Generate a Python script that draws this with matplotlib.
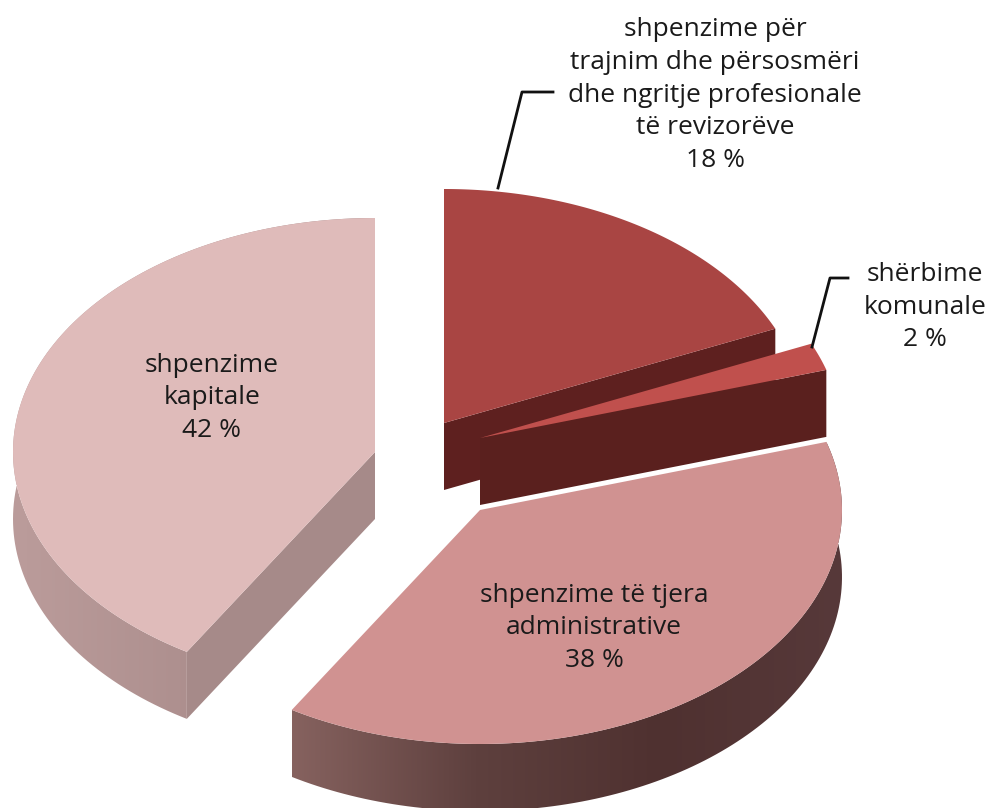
"""Exploded 3D-look pie of audit office expenses."""

import numpy as np
import matplotlib

matplotlib.use("Agg")
import matplotlib.pyplot as plt
from matplotlib.colors import LinearSegmentedColormap
from matplotlib.patches import Polygon

labels = [
    "shpenzime për\ntrajnim dhe përsosmëri\ndhe ngritje profesionale\ntë revizorëve\n18 %",
    "shërbime\nkomunale\n2 %",
    "shpenzime të tjera\nadministrative\n38 %",
    "shpenzime\nkapitale\n42 %",
]
# slice sizes as measured from the drawn angles, not the rounded label text
values = [18.4, 1.9, 38.4, 41.3]
top_colors = ["#a94543", "#c0504d", "#d09291", "#dfbbba"]
face_colors = ["#5e201f", "#5a201e", "#4f3130", "#a68a89"]
centers = [(444, 423), (480, 438), (480, 510), (375, 452)]

RX, RY, DEPTH = 362, 234, 67


def arc(center, t0, t1, n=120):
    t = np.radians(np.linspace(t0, t1, n))
    return np.column_stack([center[0] + RX * np.sin(t), center[1] - RY * np.cos(t)])


def gradient_fill(ax, pts, colors, zorder):
    cmap = LinearSegmentedColormap.from_list("wall", colors)
    x0, x1 = pts[:, 0].min(), pts[:, 0].max()
    y0, y1 = pts[:, 1].min(), pts[:, 1].max()
    im = ax.imshow(np.linspace(0, 1, 256)[None, :], cmap=cmap, extent=(x0, x1, y1, y0),
                   aspect="auto", zorder=zorder)
    patch = Polygon(pts, closed=True, transform=ax.transData, fc="none", ec="none")
    ax.add_patch(patch)
    im.set_clip_path(patch)


fig = plt.figure(figsize=(9.91, 8.08), dpi=100)
ax = fig.add_axes((0, 0, 1, 1))

edges = np.cumsum([0] + values) * 3.6
down = np.array([0, DEPTH])

# 42 % slice: outer wall then the cut face
c = np.array(centers[3])
rim = arc(c, edges[3], 360)
gradient_fill(ax, np.vstack([rim, (rim + down)[::-1]]), ["#bb9c9b", "#ad8f8e", "#9e8483"], 1)
end = rim[0]
ax.add_patch(Polygon([c, end, end + down, c + down], fc=face_colors[3], ec="none", zorder=2))
ax.add_patch(Polygon(np.vstack([c, rim]), fc=top_colors[3], ec="none", zorder=3))

# 38 % slice: outer wall
c = np.array(centers[2])
rim = arc(c, edges[2], edges[3])
gradient_fill(ax, np.vstack([rim, (rim + down)[::-1]]),
              ["#86625f", "#5e403e", "#4f3130", "#57393a"], 4)
ax.add_patch(Polygon(np.vstack([c, rim]), fc=top_colors[2], ec="none", zorder=5))

# 18 % slice
c = np.array(centers[0])
rim = arc(c, edges[0], edges[1])
ax.add_patch(Polygon([c, rim[-1], rim[-1] + down, c + down], fc=face_colors[0], ec="none", zorder=6))
ax.add_patch(Polygon(np.vstack([c, rim]), fc=top_colors[0], ec="none", zorder=7))

# 2 % slice
c = np.array(centers[1])
rim = arc(c, edges[1], edges[2])
ax.add_patch(Polygon([c, rim[-1], rim[-1] + down, c + down], fc=face_colors[1], ec="none", zorder=8))
ax.add_patch(Polygon(np.vstack([c, rim]), fc=top_colors[1], ec="none", zorder=9))

# leader lines
ax.plot([498, 522, 553], [188, 92, 92], color="#111111", lw=2, zorder=10)
ax.plot([812, 830, 848], [347, 278, 278], color="#111111", lw=2, zorder=10)

text_pos = [(715, 95), (925, 307), (594, 628), (212, 398)]
for s, (x, y) in zip(labels, text_pos):
    ax.text(x, y, s, ha="center", va="center", fontsize=19, family="Open Sans",
            linespacing=1.41, color="#1a1a1a", zorder=11)

ax.set_xlim(0, 991)
ax.set_ylim(808, 0)
ax.axis("off")
fig.savefig("out.png", dpi=100, facecolor="white")
plt.close(fig)
